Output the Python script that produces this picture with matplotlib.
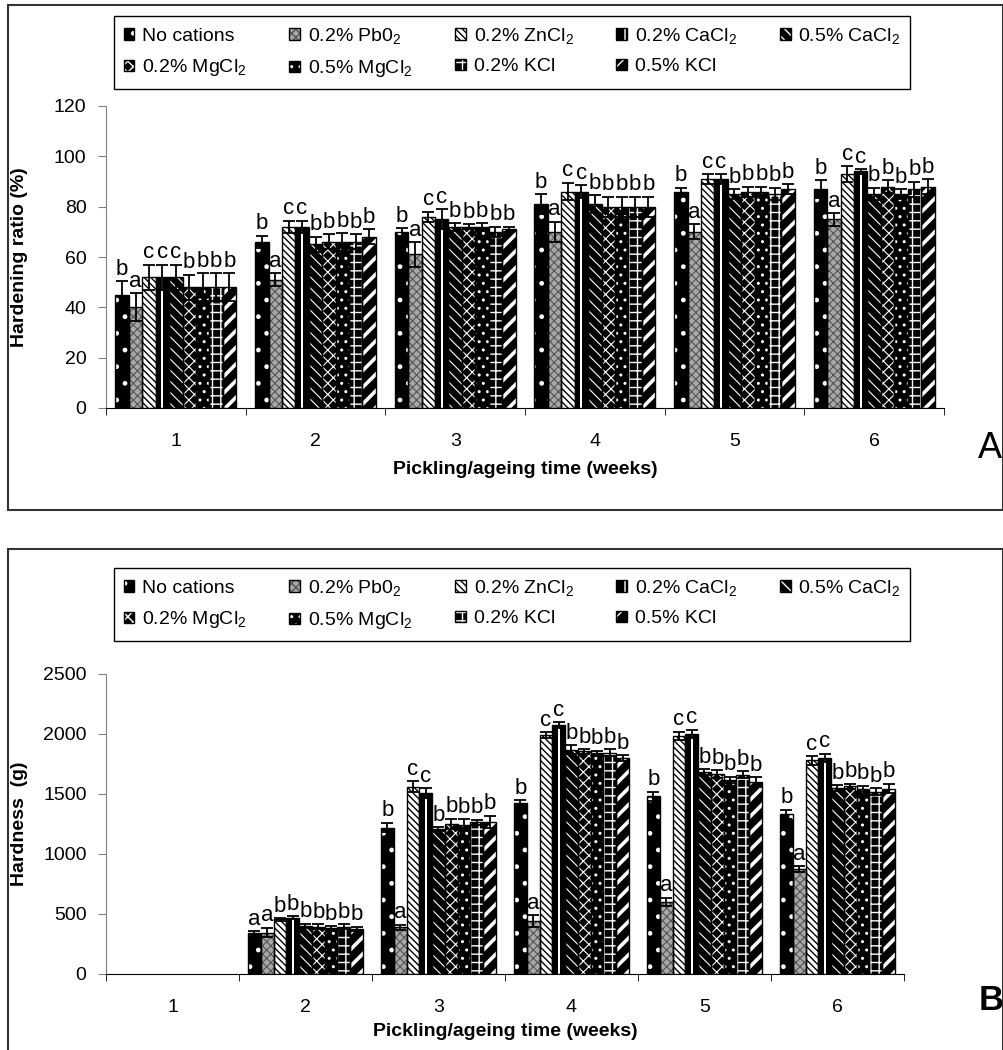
import numpy as np
import matplotlib
matplotlib.use('Agg')
import matplotlib.pyplot as plt
from matplotlib.patches import Patch, Rectangle

plt.rcParams['font.family'] = ['Liberation Sans', 'DejaVu Sans']
plt.rcParams['mathtext.default'] = 'regular'
plt.rcParams['hatch.linewidth'] = 1.0

# ---- data ----
weeks = [1, 2, 3, 4, 5, 6]
series = ['No cations', '0.2% Pb0$_2$', '0.2% ZnCl$_2$', '0.2% CaCl$_2$', '0.5% CaCl$_2$',
          '0.2% MgCl$_2$', '0.5% MgCl$_2$', '0.2% KCl', '0.5% KCl']

# hardening ratio (%), one row per series, weeks 1-6
ratio_mean = [
    [45, 66, 70, 81, 86, 87],
    [40, 51, 61, 70, 70, 75],
    [52, 72, 76, 86, 91, 93],
    [52, 72, 75, 86, 91, 94],
    [52, 65, 72, 81, 85, 85],
    [48, 66, 72, 80, 86, 88],
    [48, 66, 72, 80, 86, 85],
    [48, 66, 70, 80, 85, 87],
    [48, 68, 71, 80, 87, 88],
]
ratio_err = [
    [5.5, 2.5, 1.5, 4, 1.5, 3.5],
    [5.5, 2.5, 5, 4, 3, 2.5],
    [5, 2.5, 2, 3.5, 2, 3],
    [5, 2.5, 4, 2.5, 2, 1],
    [5, 3, 1.5, 3.5, 2, 2.5],
    [5, 3, 1, 4, 2, 2.5],
    [5.5, 3.5, 1.5, 4, 2, 2],
    [5.5, 3, 2, 4, 2.5, 3],
    [5.5, 3, 1, 4, 2, 3],
]
ratio_letters = ['bacccbbbb', 'baccbbbbb', 'baccbbbbb', 'baccbbbbb', 'baccbbbbb', 'baccbbbbb']

# hardness (g), week 1 not measured
hard_mean = [
    [0, 340, 1220, 1425, 1480, 1330],
    [0, 345, 390, 440, 600, 875],
    [0, 455, 1560, 1990, 1985, 1780],
    [0, 470, 1510, 2075, 2000, 1800],
    [0, 400, 1210, 1870, 1680, 1550],
    [0, 395, 1250, 1855, 1665, 1565],
    [0, 380, 1245, 1840, 1620, 1545],
    [0, 395, 1265, 1845, 1660, 1520],
    [0, 375, 1270, 1800, 1600, 1545],
]
hard_err = [
    [0, 15, 40, 25, 40, 40],
    [0, 40, 20, 50, 35, 25],
    [0, 10, 45, 25, 35, 35],
    [0, 10, 40, 25, 35, 35],
    [0, 20, 15, 35, 25, 25],
    [0, 20, 45, 20, 35, 20],
    [0, 20, 45, 20, 25, 25],
    [0, 20, 20, 30, 30, 30],
    [0, 20, 50, 25, 40, 40],
]
hard_letters = ['', 'aabbbbbbb', 'baccbbbbb', 'baccbbbbb', 'baccbbbbb', 'baccbbbbb']

# Excel-like fill patterns (face, hatch colour, hatch, hatch width)
styles = [
    ('black', 'white', '.', 1.0),
    ('#a8a8a8', '#555555', 'xxxx', 0.8),
    ('white', 'black', '\\\\\\\\\\', 1.0),
    ('black', 'white', '|', 1.0),
    ('black', 'white', '\\\\\\', 0.8),
    ('black', 'white', 'xxx', 0.8),
    ('black', 'white', '..', 1.0),
    ('black', 'white', '++', 1.0),
    ('black', 'white', '//', 2.6),
]

W, H = 1004, 1050
fig = plt.figure(figsize=(W / 100, H / 100), dpi=100)


def fx(px):
    return px / W


def fy(py):
    return 1 - py / H


def set_hlw(artists, lw):
    for a in artists:
        if hasattr(a, 'set_hatch_linewidth'):
            a.set_hatch_linewidth(lw)


def draw_panel(ax, means, errs, letters, ymax, ystep):
    x = np.arange(1, len(weeks) + 1)
    n = len(means)
    w = 0.096
    for i in range(n):
        m = np.array(means[i], float)
        e = np.array(errs[i], float)
        xi = x + (i - (n - 1) / 2) * w
        ok = m > 0
        fc, hc, hatch, hlw = styles[i]
        if i == 3:
            ax.bar(xi[ok], m[ok], w, color=fc, linewidth=0, zorder=2)
            ax.bar(xi[ok], m[ok], w * 0.15, color='white', linewidth=0, zorder=2.5)
        else:
            bars = ax.bar(xi[ok], m[ok], w, color=fc, edgecolor=hc, hatch=hatch,
                          linewidth=0, zorder=2)
            set_hlw(bars, hlw)
        ax.bar(xi[ok], m[ok], w, fill=False, edgecolor='black', linewidth=1, zorder=3)
        ax.errorbar(xi[ok], m[ok], yerr=e[ok], fmt='none', ecolor='black',
                    elinewidth=1.3, capsize=4.5, capthick=1.3, zorder=4)
        for j in np.where(ok)[0]:
            if letters[j]:
                ax.annotate(letters[j][i], (xi[j], m[j] + e[j]), xytext=(0, 1),
                            textcoords='offset points', ha='center', va='bottom',
                            fontsize=16, zorder=5)
    ax.set_xlim(0.5, len(weeks) + 0.5)
    ax.set_ylim(0, ymax)
    ax.set_yticks(np.arange(0, ymax + 1, ystep))
    ax.set_xticks(x)
    ax.set_xticklabels([str(wk) for wk in weeks])
    ax.set_xticks(np.arange(0.5, len(weeks) + 1, 1), minor=True)
    ax.tick_params(axis='x', which='major', length=0, pad=18, labelsize=14)
    ax.tick_params(axis='x', which='minor', length=5, direction='out', color='black')
    ax.tick_params(axis='y', length=6, direction='out', labelsize=14, pad=8, color='#808080')
    ax.spines[['top', 'right']].set_visible(False)
    ax.spines['left'].set_color('#808080')
    ax.spines['bottom'].set_color('black')


def make_legend(top_px):
    handles = []
    for fc, hc, hatch, hlw in styles:
        fill = Patch(facecolor=fc, edgecolor=hc, hatch=hatch, linewidth=0)
        set_hlw([fill], hlw)
        edge = Patch(fill=False, edgecolor='black', linewidth=1)
        handles.append((fill, edge))
    order = [0, 5, 1, 6, 2, 7, 3, 8, 4]
    leg = fig.legend([handles[k] for k in order], [series[k] for k in order],
                     loc='upper left', bbox_to_anchor=(fx(114), fy(top_px)), ncol=5,
                     frameon=True, fancybox=False, edgecolor='black', framealpha=1,
                     fontsize=14, handlelength=0.55, handleheight=0.55,
                     handletextpad=0.4, columnspacing=2.2, labelspacing=0.65,
                     borderpad=0.5, borderaxespad=0)
    leg.get_frame().set_linewidth(1)


# panel frames (right edges run to the image border)
fig.patches.append(Rectangle((fx(8), fy(510)), fx(1003) - fx(8), fy(5) - fy(510),
                             transform=fig.transFigure, fill=False, edgecolor='#333333', lw=1.5))
fig.patches.append(Rectangle((fx(8), fy(1060)), fx(1003) - fx(8), fy(549) - fy(1060),
                             transform=fig.transFigure, fill=False, edgecolor='#333333', lw=1.5))

# panel A
axA = fig.add_axes([fx(106), fy(408), fx(944) - fx(106), fy(106) - fy(408)])
draw_panel(axA, ratio_mean, ratio_err, ratio_letters, 120, 20)
axA.set_ylabel('Hardening ratio (%)', fontsize=14, fontweight='bold')
axA.yaxis.set_label_coords((28 - 106) / 838, 0.5)
axA.set_xlabel('Pickling/ageing time (weeks)', fontsize=14, fontweight='bold')
axA.xaxis.label.set_va('center')
axA.xaxis.set_label_coords(0.5, -(470 - 408) / 302)
make_legend(16)
fig.text(fx(990), fy(448), 'A', fontsize=26, ha='center', va='center')

# panel B
axB = fig.add_axes([fx(106), fy(974), fx(904) - fx(106), fy(674) - fy(974)])
draw_panel(axB, hard_mean, hard_err, hard_letters, 2500, 500)
axB.set_ylabel('Hardness  (g)', fontsize=14, fontweight='bold')
axB.yaxis.set_label_coords((28 - 106) / 798, 0.5)
axB.set_xlabel('Pickling/ageing time (weeks)', fontsize=14, fontweight='bold')
axB.xaxis.label.set_va('center')
axB.xaxis.set_label_coords(0.5, -(1032 - 974) / 300)
make_legend(568)
fig.text(fx(991), fy(1000), 'B', fontsize=25, fontweight='bold', ha='center', va='center')

fig.savefig('out.png', dpi=100)
